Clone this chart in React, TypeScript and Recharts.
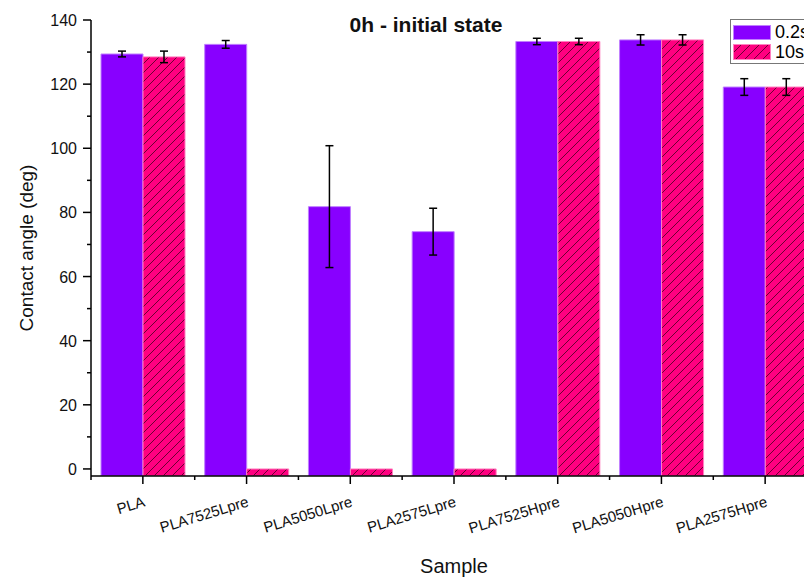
import React from "react";
import { BarChart, Bar, XAxis, YAxis, ErrorBar, Legend } from "recharts";

// sample names
const categories = ["PLA", "PLA7525Lpre", "PLA5050Lpre", "PLA2575Lpre", "PLA7525Hpre", "PLA5050Hpre", "PLA2575Hpre"];
// contact angle after 0.2 s and 10 s (deg) with std dev
const angle02 = [129.4, 132.4, 81.8, 74.0, 133.3, 133.8, 119.1];
const err02 = [0.9, 1.2, 19.0, 7.3, 1.0, 1.6, 2.6];
const angle10 = [128.5, 0, 0, 0, 133.3, 133.8, 119.1];
const err10 = [1.8, 0, 0, 0, 1.0, 1.6, 2.6];
const yTicks = [0, 10, 20, 30, 40, 50, 60, 70, 80, 90, 100, 110, 120, 130, 140];
const Y_MIN = -2.2;
const Y_MAX = 140;

const FONT = "'Liberation Sans', Arial, sans-serif";
const PURPLE = "#8800ff";
const PINK = "#ff0080";

const CHART_W = 840;
const CHART_H = 578;
const MARGIN = { top: 20, right: 23, bottom: 0, left: 0 };
const Y_AXIS_W = 91;
const X_AXIS_H = 102;
const BAND = (CHART_W - MARGIN.left - MARGIN.right - Y_AXIS_W) / categories.length;

const data = categories.map((name, i) => ({
    name,
    s02: angle02[i],
    e02: err02[i],
    s10: angle10[i],
    e10: err10[i],
}));

const YTick = (props: any) => {
    const { x, y, payload } = props;
    const axisX = x + 14;
    const major = payload.value % 20 === 0;
    return (
        <g>
            <line x1={axisX - (major ? 8 : 4)} x2={axisX} y1={y} y2={y} stroke="#000" strokeWidth={1.5} />
            {major && (
                <text x={x} y={y} dy={6} textAnchor="end" fontSize={16} fill="#111" fontFamily={FONT}>
                    {payload.value}
                </text>
            )}
        </g>
    );
};

const XTick = (props: any) => {
    const { x, y, payload, index } = props;
    const axisY = y - 12;
    const last = index === categories.length - 1;
    const tx = x + 3;
    const ty = axisY + 30;
    return (
        <g>
            <line x1={x} x2={x} y1={axisY} y2={axisY + 8} stroke="#000" strokeWidth={1.5} />
            <line x1={x - BAND / 2} x2={x - BAND / 2} y1={axisY} y2={axisY + 4} stroke="#000" strokeWidth={1.5} />
            {last && <line x1={x + BAND / 2} x2={x + BAND / 2} y1={axisY} y2={axisY + 4} stroke="#000" strokeWidth={1.5} />}
            <text x={tx} y={ty} transform={`rotate(-17, ${tx}, ${ty})`} textAnchor="end" fontSize={15} fill="#111" fontFamily={FONT}>
                {payload.value}
            </text>
        </g>
    );
};

const Hatch = ({ id }: { id: string }) => (
    <pattern id={id} patternUnits="userSpaceOnUse" width={9} height={9}>
        <rect width={9} height={9} fill={PINK} />
        <path d="M0,9 L9,0 M-2,2 L2,-2 M7,11 L11,7" stroke="#3a0018" strokeOpacity={0.75} strokeWidth={1} />
    </pattern>
);

const LegendBox = () => (
    <div style={{ border: "1px solid #777", background: "#fff", padding: "2px 30px 1px 2px", fontFamily: FONT, fontSize: 18, lineHeight: "20px" }}>
        <div style={{ display: "flex", alignItems: "center", height: 20 }}>
            <svg width={38} height={15} style={{ marginRight: 4 }}>
                <rect x={0.5} y={0.5} width={37} height={14} fill={PURPLE} stroke="#c080ff" />
            </svg>
            <span>0.2s</span>
        </div>
        <div style={{ display: "flex", alignItems: "center", height: 20 }}>
            <svg width={38} height={16} style={{ marginRight: 4 }}>
                <defs>
                    <Hatch id="hatchLegend" />
                </defs>
                <rect x={0.5} y={0.5} width={37} height={15} fill="url(#hatchLegend)" stroke="#ff80c0" />
            </svg>
            <span>10s</span>
        </div>
    </div>
);

export default function App() {
    return (
        <div style={{ position: "fixed", left: 0, top: 0, width: 804, height: 578, overflow: "hidden", background: "#fff" }}>
            <div
                style={{
                    position: "absolute",
                    left: 426,
                    top: 14,
                    transform: "translateX(-50%)",
                    fontFamily: FONT,
                    fontWeight: "bold",
                    fontSize: 21,
                    lineHeight: "21px",
                    whiteSpace: "nowrap",
                    color: "#111",
                    zIndex: 2,
                }}
            >
                0h - initial state
            </div>
            <BarChart width={CHART_W} height={CHART_H} data={data} margin={MARGIN} barSize={42} barGap={0}>
                <defs>
                    <Hatch id="hatchPink" />
                </defs>
                <XAxis
                    dataKey="name"
                    height={X_AXIS_H}
                    interval={0}
                    tickSize={8}
                    tickMargin={4}
                    tickLine={false}
                    tick={<XTick />}
                    axisLine={{ stroke: "#000", strokeWidth: 1.5 }}
                    label={{
                        content: (p: any) => (
                            <text x={p.viewBox.x + p.viewBox.width / 2} y={p.viewBox.y + 97} textAnchor="middle" fontSize={20} fill="#111" fontFamily={FONT}>
                                Sample
                            </text>
                        ),
                    }}
                />
                <YAxis
                    width={Y_AXIS_W}
                    domain={[Y_MIN, Y_MAX]}
                    ticks={yTicks}
                    interval={0}
                    allowDataOverflow
                    tickSize={8}
                    tickMargin={6}
                    tickLine={false}
                    tick={<YTick />}
                    axisLine={{ stroke: "#000", strokeWidth: 1.5 }}
                    label={{
                        content: (p: any) => {
                            const cx = p.viewBox.x + 26;
                            const cy = p.viewBox.y + p.viewBox.height / 2;
                            return (
                                <text x={cx} y={cy} transform={`rotate(-90, ${cx}, ${cy})`} textAnchor="middle" dominantBaseline="central" fontSize={19} fill="#111" fontFamily={FONT}>
                                    Contact angle (deg)
                                </text>
                            );
                        },
                    }}
                />
                <Legend layout="vertical" align="center" verticalAlign="middle" wrapperStyle={{ top: 19, left: 730, width: "auto" }} content={<LegendBox />} />
                <Bar dataKey={(d: any) => [Y_MIN, d.s02]} name="0.2s" fill={PURPLE} stroke="#c080ff" strokeWidth={1} isAnimationActive={false}>
                    <ErrorBar dataKey="e02" width={4} stroke="#000" strokeWidth={1.5} />
                </Bar>
                <Bar dataKey={(d: any) => [Y_MIN, d.s10]} name="10s" fill="url(#hatchPink)" stroke="#ff80c0" strokeWidth={1} isAnimationActive={false}>
                    <ErrorBar dataKey="e10" width={4} stroke="#000" strokeWidth={1.5} />
                </Bar>
            </BarChart>
        </div>
    );
}
